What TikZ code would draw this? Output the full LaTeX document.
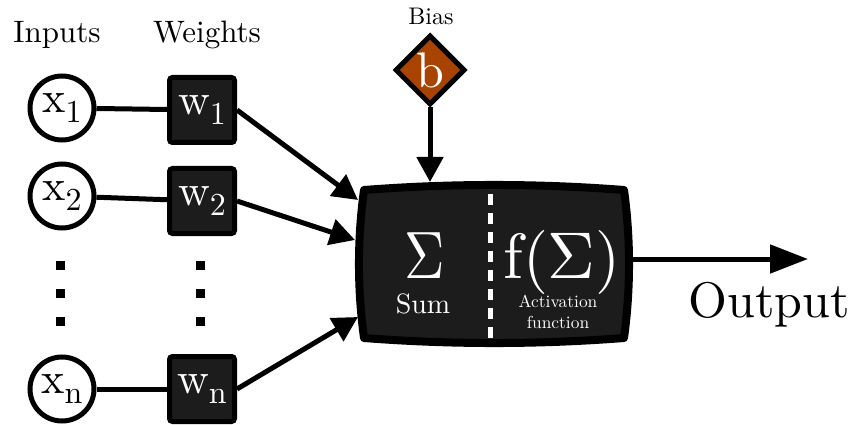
\documentclass[tikz,border=0pt]{standalone}
\usepackage{fontspec}
\setmainfont{lmroman10-regular.otf}
\usetikzlibrary{arrows.meta,shapes.geometric}
\definecolor{core}{HTML}{1C1C1C}
\definecolor{biasfill}{HTML}{A84300}
% lowered subscript set as text, so it scales with any font size
\newcommand{\lowsub}[1]{\raisebox{-10pt}{\fontsize{32}{32}\selectfont #1}}
% large sigma: set at 10pt and magnified
\newcommand{\bigsig}[2]{\scalebox{#1}[#2]{\fontsize{10}{12}\selectfont$\Sigma$}}
\tikzset{
  input/.style={circle, draw, line width=5pt, minimum size=64pt, inner sep=0pt,
    font=\fontsize{44}{44}\selectfont},
  weight/.style={rectangle, draw, fill=core, text=white, line width=5pt,
    minimum size=65pt, rounded corners=3pt, inner sep=0pt,
    font=\fontsize{44}{44}\selectfont},
  biasnode/.style={diamond, draw, fill=biasfill, text=white, line width=5pt,
    minimum width=70pt, minimum height=70pt, inner sep=0pt,
    font=\fontsize{50}{50}\selectfont},
  corebox/.style={draw=black, fill=core, line width=8pt, line join=round},
  divider/.style={draw=white, line width=5pt, dash pattern=on 11pt off 8pt},
  link/.style={line width=5pt},
  feed/.style={line width=5pt, -{Triangle[length=25pt,width=26pt]}},
  outarrow/.style={line width=5pt, -{Triangle[length=38pt,width=28pt]}},
  dotmark/.style={rectangle, fill=black, minimum size=9pt, inner sep=0pt},
  heading/.style={anchor=base, inner sep=0pt, font=\fontsize{31}{31}\selectfont},
  whitelabel/.style={anchor=base, inner sep=0pt, text=white},
}
\begin{document}
\begin{tikzpicture}[x=1pt,y=-1pt]
\useasboundingbox (0,0) rectangle (857,425);

% column headings
\node[heading] (hin) at (57,43) {Inputs};
\node[heading] (hw) at (207,43) {Weights};

% inputs
\node[input] (x1) at (62,108) {x\lowsub{1}};
\node[input] (x2) at (62,196) {x\lowsub{2}};
\node[input] (xn) at (62,389) {x\lowsub{n}};

% weights
\node[weight] (w1) at (202,110) {w\lowsub{1}};
\node[weight] (w2) at (202,201) {w\lowsub{2}};
\node[weight] (wn) at (202,389) {w\lowsub{n}};

% vertical ellipses
\foreach \yy [count=\k] in {265,293,321} {
  \node[dotmark] (di\k) at (60,\yy) {};
  \node[dotmark] (dw\k) at (200,\yy) {};
}

% input-to-weight links
\draw[link] (x1) -- (w1);
\draw[link] (x2) -- (w2);
\draw[link] (xn) -- (wn);

% bias
\node[anchor=base, inner sep=0pt, font=\fontsize{24}{24}\selectfont] (hb) at (431,25) {Bias};
\node[biasnode] (b) at (430,70) {b};

% neuron body
\filldraw[corebox] (364,190) .. controls (451,183.3) and (537,183.3) .. (624,190)
  .. controls (630.7,239) and (630.7,289) .. (624,338)
  .. controls (537,344.7) and (451,344.7) .. (364,338)
  .. controls (357.3,289) and (357.3,239) .. (364,190) -- cycle;
\coordinate (dtop) at (490,194);
\coordinate (dbot) at (490,338);
\draw[divider] (dtop) -- (dbot);

\node[whitelabel] (sig) at (425,278) {\bigsig{5.6}{6.7}};
\node[whitelabel, font=\fontsize{28}{28}\selectfont] (sum) at (423,313) {Sum};
\node[whitelabel, font=\fontsize{64}{64}\selectfont] (act) at (562,278)
  {f(\bigsig{6.6}{6.6})};
\node[whitelabel, font=\fontsize{17.4}{21}\selectfont] (actA) at (558,307) {Activation};
\node[whitelabel, font=\fontsize{17.4}{21}\selectfont] (actB) at (558,328) {function};

% connector end points on the neuron outline
\coordinate (in1) at (358,200);
\coordinate (in2) at (355,240);
\coordinate (inN) at (358,317);
\coordinate (inB) at (430,182);
\coordinate (outS) at (629,259);
\coordinate (outE) at (808,259);

\draw[feed] (w1.east) -- (in1);
\draw[feed] (w2.east) -- (in2);
\draw[feed] (wn.east) -- (inN);
\draw[feed] (b.south) -- (inB);
\draw[outarrow] (outS) -- (outE);

\node[anchor=base, inner sep=0pt, font=\fontsize{50}{50}\selectfont] (out) at (769,317) {Output};
\end{tikzpicture}
\end{document}
